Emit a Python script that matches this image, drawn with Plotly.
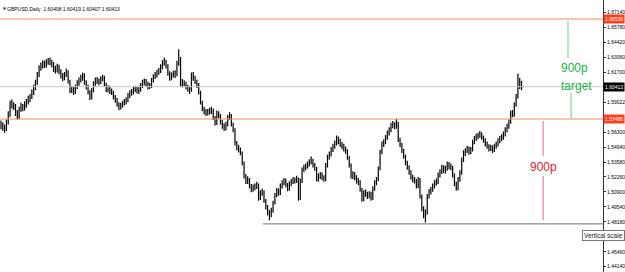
import plotly.graph_objects as go

# ---- data: GBPUSD daily bars ----
opens = [
1.5700,1.5690,1.5672,1.5665,1.5720,1.5785,1.5890,1.5875,1.5860,1.5800,
1.5765,1.5840,1.5860,1.5850,1.5880,1.5905,1.5925,1.5950,1.5985,1.6030,
1.6080,1.6150,1.6210,1.6235,1.6255,1.6240,1.6270,1.6280,1.6265,1.6245,
1.6200,1.6190,1.6225,1.6180,1.6140,1.6120,1.6150,1.6175,1.6090,1.6010,
1.6020,1.5995,1.6040,1.6075,1.6100,1.6120,1.6145,1.6080,1.6040,1.5990,
1.5940,1.6010,1.6070,1.6100,1.6095,1.6085,1.6110,1.6125,1.6060,1.6010,
1.6030,1.6000,1.5990,1.5945,1.5920,1.5880,1.5850,1.5870,1.5895,1.5900,
1.5920,1.5960,1.5985,1.5990,1.6010,1.6025,1.6000,1.6015,1.6050,1.6080,
1.6085,1.6065,1.6040,1.6050,1.6100,1.6130,1.6150,1.6170,1.6185,1.6220,
1.6255,1.6270,1.6230,1.6160,1.6120,1.6145,1.6160,1.6150,1.6255,1.6300,
1.6060,1.6080,1.6065,1.6040,1.6020,1.6010,1.6150,1.6120,1.6085,1.6060,
1.5990,1.5900,1.5840,1.5815,1.5800,1.5815,1.5820,1.5830,1.5760,1.5710,
1.5800,1.5780,1.5720,1.5690,1.5660,1.5700,1.5760,1.5780,1.5700,1.5650,
1.5530,1.5490,1.5470,1.5440,1.5350,1.5230,1.5180,1.5200,1.5140,1.5110,
1.5130,1.5140,1.5150,1.5030,1.5080,1.5090,1.5010,1.4950,1.4900,1.4880,
1.4920,1.4990,1.5060,1.5100,1.5080,1.5140,1.5170,1.5190,1.5150,1.5120,
1.5160,1.5180,1.5200,1.5190,1.5210,1.5030,1.5190,1.5290,1.5310,1.5320,
1.5340,1.5360,1.5370,1.5330,1.5300,1.5200,1.5230,1.5245,1.5220,1.5200,
1.5330,1.5400,1.5430,1.5470,1.5500,1.5530,1.5555,1.5550,1.5520,1.5500,
1.5480,1.5460,1.5400,1.5330,1.5230,1.5250,1.5220,1.5190,1.5180,1.5110,
1.5020,1.5080,1.5070,1.5050,1.5070,1.5030,1.5120,1.5170,1.5200,1.5300,
1.5450,1.5520,1.5540,1.5580,1.5620,1.5650,1.5690,1.5700,1.5680,1.5710,
1.5560,1.5520,1.5460,1.5410,1.5350,1.5310,1.5270,1.5220,1.5200,1.5190,
1.5140,1.5200,1.5050,1.4940,1.4880,1.4900,1.5050,1.5090,1.5110,1.5140,
1.5170,1.5180,1.5240,1.5270,1.5310,1.5280,1.5300,1.5340,1.5320,1.5310,
1.5240,1.5160,1.5120,1.5200,1.5260,1.5380,1.5440,1.5460,1.5480,1.5450,
1.5470,1.5540,1.5570,1.5590,1.5600,1.5610,1.5580,1.5560,1.5520,1.5500,
1.5480,1.5490,1.5470,1.5500,1.5520,1.5550,1.5570,1.5580,1.5610,1.5650,
1.5680,1.5720,1.5800,1.5790,1.5880,1.5950,1.6050,1.6080,1.60408]

highs = [
1.5735,1.5720,1.5700,1.5745,1.5820,1.5915,1.5925,1.5900,1.5885,1.5830,
1.5860,1.5895,1.5885,1.5910,1.5930,1.5960,1.5975,1.6015,1.6060,1.6105,
1.6175,1.6235,1.6260,1.6280,1.6275,1.6290,1.6300,1.6305,1.6285,1.6265,
1.6230,1.6250,1.6240,1.6200,1.6165,1.6175,1.6205,1.6190,1.6105,1.6050,
1.6040,1.6060,1.6100,1.6125,1.6150,1.6170,1.6160,1.6100,1.6060,1.6010,
1.6030,1.6090,1.6125,1.6130,1.6115,1.6135,1.6150,1.6140,1.6080,1.6055,
1.6050,1.6025,1.6005,1.5965,1.5940,1.5900,1.5895,1.5915,1.5930,1.5945,
1.5985,1.6010,1.6020,1.6040,1.6050,1.6045,1.6040,1.6075,1.6105,1.6115,
1.6110,1.6085,1.6075,1.6120,1.6155,1.6175,1.6195,1.6210,1.6245,1.6280,
1.6305,1.6285,1.6245,1.6180,1.6170,1.6185,1.6190,1.6275,1.6380,1.6310,
1.6110,1.6100,1.6085,1.6060,1.6045,1.6170,1.6175,1.6140,1.6105,1.6075,
1.6005,1.5915,1.5860,1.5840,1.5840,1.5850,1.5860,1.5845,1.5775,1.5825,
1.5820,1.5795,1.5740,1.5710,1.5725,1.5785,1.5810,1.5795,1.5715,1.5665,
1.5550,1.5515,1.5490,1.5455,1.5365,1.5250,1.5230,1.5215,1.5160,1.5155,
1.5165,1.5180,1.5165,1.5105,1.5120,1.5105,1.5025,1.4970,1.4925,1.4945,
1.5010,1.5080,1.5125,1.5120,1.5165,1.5195,1.5215,1.5210,1.5170,1.5185,
1.5205,1.5225,1.5220,1.5235,1.5220,1.5210,1.5310,1.5335,1.5345,1.5365,
1.5385,1.5410,1.5390,1.5350,1.5315,1.5255,1.5270,1.5265,1.5240,1.5350,
1.5425,1.5455,1.5495,1.5525,1.5555,1.5600,1.5590,1.5570,1.5540,1.5525,
1.5500,1.5475,1.5415,1.5345,1.5275,1.5270,1.5240,1.5215,1.5195,1.5125,
1.5105,1.5110,1.5090,1.5095,1.5090,1.5140,1.5195,1.5225,1.5320,1.5470,
1.5545,1.5565,1.5605,1.5645,1.5675,1.5715,1.5730,1.5720,1.5750,1.5725,
1.5580,1.5535,1.5480,1.5425,1.5370,1.5330,1.5285,1.5245,1.5225,1.5205,
1.5225,1.5215,1.5065,1.4960,1.4930,1.5070,1.5115,1.5135,1.5165,1.5195,
1.5210,1.5265,1.5295,1.5335,1.5330,1.5325,1.5365,1.5360,1.5345,1.5325,
1.5255,1.5180,1.5225,1.5285,1.5400,1.5465,1.5485,1.5505,1.5500,1.5495,
1.5560,1.5595,1.5615,1.5625,1.5640,1.5630,1.5600,1.5575,1.5545,1.5520,
1.5515,1.5510,1.5525,1.5545,1.5575,1.5595,1.5610,1.5635,1.5675,1.5705,
1.5745,1.5825,1.5830,1.5900,1.5975,1.6161,1.6120,1.6095,1.60419]

lows = [
1.5655,1.5640,1.5625,1.5640,1.5700,1.5770,1.5845,1.5830,1.5775,1.5745,
1.5750,1.5815,1.5820,1.5825,1.5850,1.5880,1.5900,1.5930,1.5965,1.6010,
1.6060,1.6130,1.6185,1.6205,1.6210,1.6215,1.6240,1.6235,1.6215,1.6175,
1.6160,1.6170,1.6155,1.6115,1.6090,1.6100,1.6130,1.6070,1.5985,1.5985,
1.5965,1.5975,1.6020,1.6050,1.6080,1.6095,1.6060,1.6015,1.5970,1.5920,
1.5925,1.5990,1.6050,1.6065,1.6055,1.6065,1.6090,1.6040,1.5990,1.5990,
1.5975,1.5965,1.5925,1.5895,1.5860,1.5827,1.5835,1.5850,1.5870,1.5880,
1.5900,1.5940,1.5960,1.5970,1.5990,1.5980,1.5975,1.5995,1.6030,1.6055,
1.6040,1.6015,1.6020,1.6030,1.6080,1.6110,1.6125,1.6150,1.6165,1.6200,
1.6230,1.6205,1.6140,1.6095,1.6100,1.6125,1.6120,1.6135,1.6230,1.6040,
1.6035,1.6040,1.6015,1.5995,1.5975,1.5995,1.6095,1.6065,1.6030,1.5970,
1.5880,1.5820,1.5790,1.5775,1.5780,1.5790,1.5795,1.5740,1.5690,1.5695,
1.5755,1.5700,1.5660,1.5640,1.5645,1.5680,1.5740,1.5680,1.5630,1.5510,
1.5465,1.5445,1.5420,1.5330,1.5210,1.5160,1.5160,1.5120,1.5085,1.5090,
1.5105,1.5115,1.5010,1.5015,1.5055,1.4990,1.4930,1.4875,1.4832,1.4860,
1.4900,1.4975,1.5040,1.5055,1.5060,1.5120,1.5150,1.5130,1.5095,1.5100,
1.5140,1.5160,1.5165,1.5170,1.5010,1.5015,1.5170,1.5270,1.5285,1.5300,
1.5320,1.5340,1.5310,1.5280,1.5185,1.5180,1.5205,1.5195,1.5180,1.5185,
1.5310,1.5380,1.5410,1.5450,1.5480,1.5510,1.5520,1.5495,1.5475,1.5455,
1.5435,1.5380,1.5310,1.5210,1.5205,1.5195,1.5165,1.5150,1.5090,1.5000,
1.5005,1.5045,1.5025,1.5030,1.5010,1.5015,1.5100,1.5150,1.5185,1.5285,
1.5430,1.5495,1.5520,1.5560,1.5600,1.5630,1.5665,1.5655,1.5660,1.5540,
1.5495,1.5440,1.5390,1.5330,1.5290,1.5245,1.5200,1.5175,1.5165,1.5120,
1.5125,1.5030,1.4915,1.4850,1.4812,1.4885,1.5030,1.5065,1.5090,1.5120,
1.5145,1.5160,1.5220,1.5250,1.5260,1.5255,1.5280,1.5295,1.5285,1.5220,
1.5140,1.5100,1.5105,1.5180,1.5245,1.5360,1.5415,1.5440,1.5425,1.5430,
1.5455,1.5520,1.5550,1.5565,1.5580,1.5560,1.5535,1.5500,1.5480,1.5455,
1.5460,1.5440,1.5450,1.5480,1.5500,1.5530,1.5550,1.5560,1.5590,1.5630,
1.5660,1.5705,1.5765,1.5770,1.5860,1.5935,1.6020,1.6010,1.60407]

closes = [
1.5690,1.5672,1.5665,1.5720,1.5785,1.5890,1.5875,1.5860,1.5800,1.5765,
1.5840,1.5860,1.5850,1.5880,1.5905,1.5925,1.5950,1.5985,1.6030,1.6080,
1.6150,1.6210,1.6235,1.6255,1.6240,1.6270,1.6280,1.6265,1.6245,1.6200,
1.6190,1.6225,1.6180,1.6140,1.6120,1.6150,1.6175,1.6090,1.6010,1.6020,
1.5995,1.6040,1.6075,1.6100,1.6120,1.6145,1.6080,1.6040,1.5990,1.5940,
1.6010,1.6070,1.6100,1.6095,1.6085,1.6110,1.6125,1.6060,1.6010,1.6030,
1.6000,1.5990,1.5945,1.5920,1.5880,1.5850,1.5870,1.5895,1.5900,1.5920,
1.5960,1.5985,1.5990,1.6010,1.6025,1.6000,1.6015,1.6050,1.6080,1.6085,
1.6065,1.6040,1.6050,1.6100,1.6130,1.6150,1.6170,1.6185,1.6220,1.6255,
1.6270,1.6230,1.6160,1.6120,1.6145,1.6160,1.6150,1.6255,1.6300,1.6060,
1.6080,1.6065,1.6040,1.6020,1.6010,1.6150,1.6120,1.6085,1.6060,1.5990,
1.5900,1.5840,1.5815,1.5800,1.5815,1.5820,1.5830,1.5760,1.5710,1.5800,
1.5780,1.5720,1.5690,1.5660,1.5700,1.5760,1.5780,1.5700,1.5650,1.5530,
1.5490,1.5470,1.5440,1.5350,1.5230,1.5180,1.5200,1.5140,1.5110,1.5130,
1.5140,1.5150,1.5030,1.5080,1.5090,1.5010,1.4950,1.4900,1.4880,1.4920,
1.4990,1.5060,1.5100,1.5080,1.5140,1.5170,1.5190,1.5150,1.5120,1.5160,
1.5180,1.5200,1.5190,1.5210,1.5030,1.5190,1.5290,1.5310,1.5320,1.5340,
1.5360,1.5370,1.5330,1.5300,1.5200,1.5230,1.5245,1.5220,1.5200,1.5330,
1.5400,1.5430,1.5470,1.5500,1.5530,1.5555,1.5550,1.5520,1.5500,1.5480,
1.5460,1.5400,1.5330,1.5230,1.5250,1.5220,1.5190,1.5180,1.5110,1.5020,
1.5080,1.5070,1.5050,1.5070,1.5030,1.5120,1.5170,1.5200,1.5300,1.5450,
1.5520,1.5540,1.5580,1.5620,1.5650,1.5690,1.5700,1.5680,1.5710,1.5560,
1.5520,1.5460,1.5410,1.5350,1.5310,1.5270,1.5220,1.5200,1.5190,1.5140,
1.5200,1.5050,1.4940,1.4880,1.4900,1.5050,1.5090,1.5110,1.5140,1.5170,
1.5180,1.5240,1.5270,1.5310,1.5280,1.5300,1.5340,1.5320,1.5310,1.5240,
1.5160,1.5120,1.5200,1.5260,1.5380,1.5440,1.5460,1.5480,1.5450,1.5470,
1.5540,1.5570,1.5590,1.5600,1.5610,1.5580,1.5560,1.5520,1.5500,1.5480,
1.5490,1.5470,1.5500,1.5520,1.5550,1.5570,1.5580,1.5610,1.5650,1.5680,
1.5720,1.5800,1.5790,1.5880,1.5950,1.6050,1.6080,1.6030,1.60413]

bar_index = list(range(len(closes)))

tick_values = [1.67140, 1.65780, 1.64420, 1.63060, 1.61700, 1.59022, 1.56300,
               1.54940, 1.53580, 1.52260, 1.50900, 1.49540, 1.48180, 1.45460, 1.44140]
tick_labels = ["%.5f" % v for v in tick_values]

target_level = 1.66539
neck_level = 1.57488
bid_level = 1.60413
support_level = 1.4800
header = "GBPUSD,Daily  1.60408 1.60419 1.60407 1.60413"

FONT = "Liberation Sans, Arial, sans-serif"
ORANGE = "#f9875e"
LABEL_RED = "#ff3d1f"
GREEN_TXT = "#22b04a"
GREEN_LN = "#6fd08a"
RED_TXT = "#ee1c2c"
RED_LN = "#e86a78"

fig = go.Figure()
fig.add_trace(go.Ohlc(
    x=bar_index, open=opens, high=highs, low=lows, close=closes,
    increasing=dict(line=dict(color="#000000", width=1.2)),
    decreasing=dict(line=dict(color="#000000", width=1.2)),
    tickwidth=0.3, hoverinfo="skip", showlegend=False,
))

shapes = [
    dict(type="line", xref="paper", x0=0, x1=1, yref="y", y0=target_level, y1=target_level,
         line=dict(color=ORANGE, width=1)),
    dict(type="line", xref="paper", x0=0, x1=1, yref="y", y0=bid_level, y1=bid_level,
         line=dict(color="#c8c8c8", width=1)),
    dict(type="line", xref="paper", x0=0, x1=1, yref="y", y0=neck_level, y1=neck_level,
         line=dict(color=ORANGE, width=1)),
    dict(type="line", xref="x", x0=144.5, x1=332, yref="y", y0=support_level, y1=support_level,
         line=dict(color="#8a8a8a", width=1.2)),
    # green measured-move line
    dict(type="line", xref="x", x0=312.6, x1=312.6, yref="y", y0=1.6636, y1=1.6301,
         line=dict(color=GREEN_LN, width=1)),
    dict(type="line", xref="x", x0=314.3, x1=314.3, yref="y", y0=1.5984, y1=1.5752,
         line=dict(color=GREEN_LN, width=1)),
    # red pattern-height line
    dict(type="line", xref="x", x0=298.9, x1=298.9, yref="y", y0=1.5731, y1=1.5414,
         line=dict(color=RED_LN, width=1)),
    dict(type="line", xref="x", x0=298.9, x1=298.9, yref="y", y0=1.5233, y1=1.4835,
         line=dict(color=RED_LN, width=1)),
]

annotations = [
    dict(text="900p", xref="x", x=307.7, xanchor="left", yref="y", y=1.6210, yanchor="middle",
         showarrow=False, font=dict(family=FONT, size=12, color=GREEN_TXT)),
    dict(text="target", xref="x", x=307.7, xanchor="left", yref="y", y=1.6046, yanchor="middle",
         showarrow=False, font=dict(family=FONT, size=12, color=GREEN_TXT)),
    dict(text="900p", xref="x", x=299.2, xanchor="center", yref="y", y=1.5310, yanchor="middle",
         showarrow=False, font=dict(family=FONT, size=12, color=RED_TXT)),
    dict(text="▼", xref="paper", x=0.002, xanchor="left", yref="paper", y=0.967, yanchor="middle",
         showarrow=False, font=dict(family="DejaVu Sans", size=4, color="#333333")),
    dict(text=header, xref="paper", x=0.009, xanchor="left", yref="paper", y=0.967, yanchor="middle",
         showarrow=False, font=dict(family=FONT, size=5, color="#000000")),
    dict(text="Vertical scale", xref="paper", x=1.0, xanchor="center", xshift=0, yref="y", y=1.4698,
         yanchor="middle", showarrow=False, bgcolor="#ffffff", bordercolor="#767676", borderwidth=1,
         borderpad=1, font=dict(family=FONT, size=6.5, color="#222222")),
]
for lvl, bg in [(target_level, LABEL_RED), (bid_level, "#000000"), (neck_level, LABEL_RED)]:
    annotations.append(dict(text="%.5f" % lvl, xref="paper", x=1.0, xanchor="left", yref="y", y=lvl,
                            yanchor="middle", showarrow=False, bgcolor=bg, borderpad=1,
                            font=dict(family=FONT, size=5, color="#ffffff")))

fig.update_layout(
    width=625, height=272,
    margin=dict(l=0, r=20, t=0, b=0),
    paper_bgcolor="#ffffff", plot_bgcolor="#ffffff",
    showlegend=False,
    shapes=shapes, annotations=annotations,
    xaxis=dict(range=[-0.55, 331.9], visible=False, rangeslider=dict(visible=False),
               showgrid=False, zeroline=False, fixedrange=True),
    yaxis=dict(side="right", range=[1.4364, 1.6826], tickvals=tick_values, ticktext=tick_labels,
               showgrid=False, zeroline=False, showline=True, linecolor="#303030", linewidth=1,
               ticks="outside", ticklen=2, tickcolor="#303030",
               tickfont=dict(family=FONT, size=5, color="#000000"), fixedrange=True),
)

fig.write_html("out.html")
